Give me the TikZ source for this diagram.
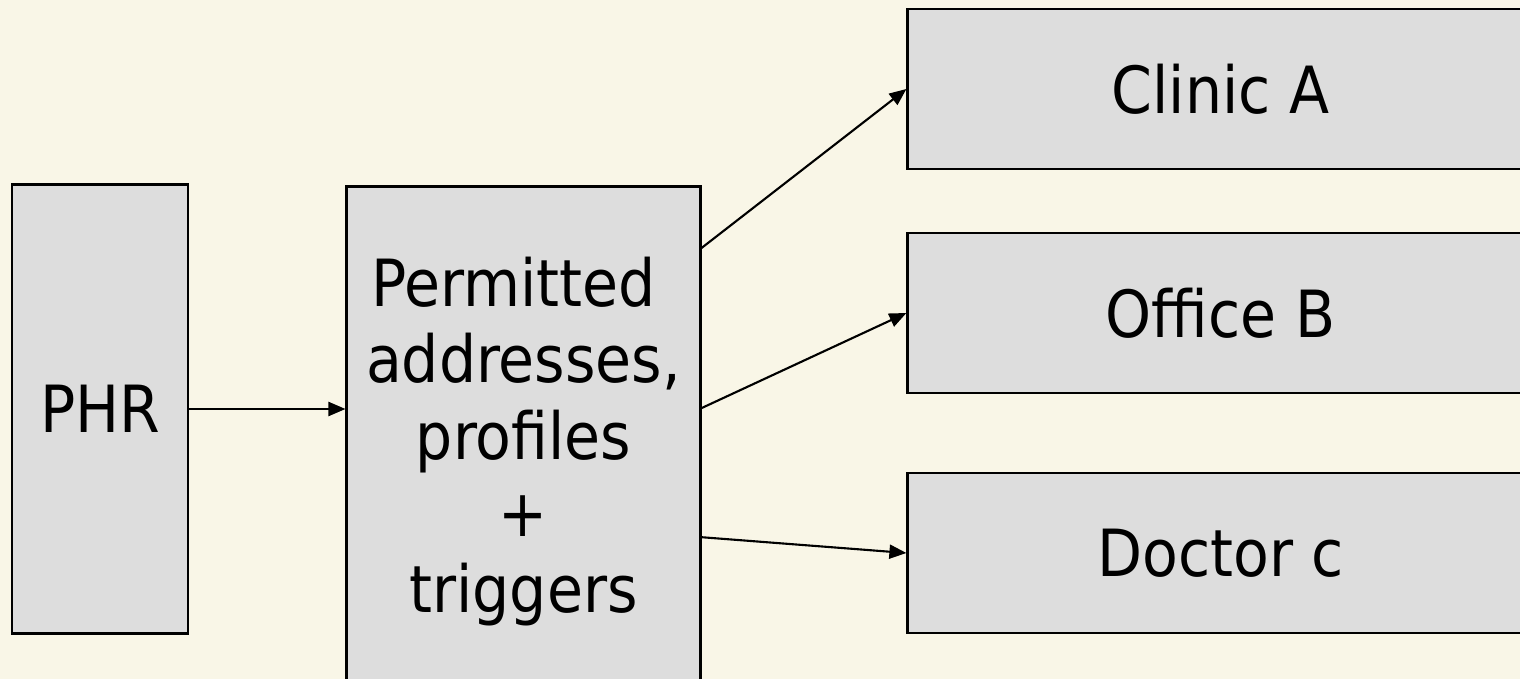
\documentclass[tikz,border=0pt]{standalone}
\usepackage{fontspec}
\setmainfont{DejaVu Sans Condensed}
\usetikzlibrary{arrows.meta}
\usetikzlibrary{backgrounds}

\definecolor{paper}{HTML}{F9F6E7}
\definecolor{boxgray}{HTML}{DDDDDD}

\begin{document}
\begin{tikzpicture}[x=0.01cm, y=-0.01cm, show background rectangle,
    background rectangle/.style={fill=paper}, inner frame sep=0pt]
    \tikzset{block/.style = {shape=rectangle, draw, line width=0.8pt, fill=boxgray,
        inner sep=0pt, font=\fontsize{18.5}{21.8}\selectfont}}
    \tikzset{edge/.style = {-{Triangle[length=0.17cm,width=0.14cm]}, line width=0.6pt}}
    \clip (0,0) rectangle (1520,679);

    % blocks
    \node[block, minimum width=1.76cm, minimum height=4.48cm] (phr) at (100,409) {PHR};
    \node[block, anchor=north, minimum width=3.53cm, minimum height=5.1cm,
        align=center] (perm) at (523.5,185)
        {Permitted\kern0.3em\\addresses,\\profiles\\+\\triggers};
    \node[block, minimum width=6.25cm, minimum height=1.6cm] (clinic) at (1220.5,89) {Clinic A};
    \node[block, minimum width=6.25cm, minimum height=1.6cm] (office) at (1220.5,313) {Office B};
    \node[block, minimum width=6.25cm, minimum height=1.6cm] (doctor) at (1220.5,553) {Doctor c};

    % edges
    \draw[edge] (phr.east) to (phr.east -| perm.west);
    \draw[edge] ([yshift=-0.63cm]perm.north east) to (clinic.west);
    \draw[edge] ([yshift=-2.23cm]perm.north east) to (office.west);
    \draw[edge] ([yshift=-3.52cm]perm.north east) to (doctor.west);
\end{tikzpicture}
\end{document}
